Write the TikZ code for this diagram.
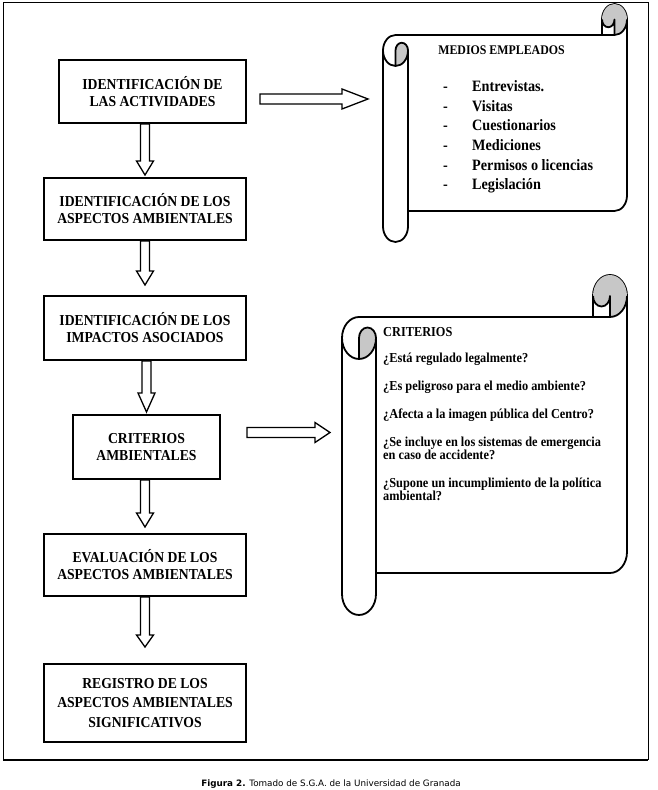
\documentclass[tikz,border=0pt]{standalone}
\usepackage{fontspec}
\setmainfont{Liberation Serif}[FakeStretch=0.9]
\newfontfamily\pief{DejaVu Sans}
\usetikzlibrary{positioning,calc}
\newcommand{\guion}{\makebox[29pt][l]{-}}
\tikzset{
    etapa/.style={rectangle, draw=black, line width=2.4pt, minimum width=201.6pt, minimum height=61.6pt, align=center, font=\fontsize{15.2}{17}\selectfont\bfseries, inner sep=2pt},
    texto/.style={inner sep=0pt, align=left, anchor=west},
    hoja/.style={inner sep=0pt, outer sep=0pt},
    rollo/.style={draw=black, line width=1.8pt, fill=white, line join=round},
    sombra/.style={fill=black!22},
    punta/.store in=\largopunta, punta=14,
    bajar/.style={draw=black, line width=1.3pt, to path={
        let \p1=(\tikztostart), \p2=(\tikztotarget) in
        (\x1-4.5,\y1) -- (\x1-4.5,\y2+\largopunta) -- (\x1-8.5,\y2+\largopunta) -- (\x1,\y2)
        -- (\x1+8.5,\y2+\largopunta) -- (\x1+4.5,\y2+\largopunta) -- (\x1+4.5,\y1) -- cycle}},
    derecha/.style={draw=black, line width=1.3pt, to path={
        let \p1=(\tikztostart), \p2=(\tikztotarget) in
        (\x1,\y1+5) -- (\x2-\largopunta,\y1+5) -- (\x2-\largopunta,\y1+10) -- (\x2,\y1)
        -- (\x2-\largopunta,\y1-10) -- (\x2-\largopunta,\y1-5) -- (\x1,\y1-5) -- cycle}}
    }
% pergamino: left, bottom, right, top, roll width, roll height
\newcommand{\pergamino}[6]{%
    \draw[rollo] (#1,{#4-1.5*#6}) arc[start angle=180, end angle=90, x radius={#5*0.5pt}, y radius={#6*0.5pt}]
        -- ({#3-#5},{#4-#6}) -- ({#3-#5},{#4-#6/2})
        arc[start angle=180, end angle=0, x radius={#5*0.5pt}, y radius={#6*0.5pt}]
        -- (#3,{#2+1.5*#6})
        arc[start angle=0, end angle=-90, x radius={#5*0.5pt}, y radius={#6*0.5pt}]
        -- ({#1+#5},{#2+#6}) -- ({#1+#5},{#2+#6/2})
        arc[start angle=0, end angle=-180, x radius={#5*0.5pt}, y radius={#6*0.5pt}]
        -- cycle;
    \fill[sombra] ({#3-#5/2},{#4-#6}) arc[start angle=-90, end angle=180, x radius={#5*0.5pt}, y radius={#6*0.5pt}]
        arc[start angle=180, end angle=360, x radius={#5*0.25pt}, y radius={#6*0.25pt}] -- cycle;
    \fill[sombra] ({#1+#5/2},{#4-2*#6}) arc[start angle=-90, end angle=0, x radius={#5*0.5pt}, y radius={#6*0.5pt}]
        arc[start angle=0, end angle=180, x radius={#5*0.25pt}, y radius={#6*0.25pt}] -- cycle;
    \draw[rollo, fill=none] ({#3-#5},{#4-#6}) -- ({#3-#5/2},{#4-#6})
        arc[start angle=-90, end angle=0, x radius={#5*0.5pt}, y radius={#6*0.5pt}];
    \draw[rollo, fill=none] ({#3-#5/2},{#4-#6}) -- ({#3-#5/2},{#4-#6/2})
        arc[start angle=0, end angle=-180, x radius={#5*0.25pt}, y radius={#6*0.25pt}];
    \draw[rollo, fill=none] ({#1+#5/2},{#4-2*#6}) -- ({#1+#5/2},{#4-1.5*#6})
        arc[start angle=180, end angle=0, x radius={#5*0.25pt}, y radius={#6*0.25pt}]
        arc[start angle=0, end angle=-180, x radius={#5*0.5pt}, y radius={#6*0.5pt}];
    \draw[rollo, fill=none] ({#1+#5},{#4-1.5*#6}) -- ({#1+#5},{#2+#6});
}
\begin{document}
\begin{tikzpicture}[x=1pt, y=1pt]
    \useasboundingbox (0,0) rectangle (657,790);
    \draw[line width=1pt] (3,30) rectangle (648,787);
    \draw[line width=2pt] (3,30) -- (648,30);

    \node[etapa, minimum width=186.6pt, minimum height=62.6pt] (act) at (152.5,698.5) {IDENTIFICACIÓN DE\\LAS ACTIVIDADES};
    \node[etapa, below=53pt of act, xshift=-7.5pt] (asp) {IDENTIFICACIÓN DE LOS\\ASPECTOS AMBIENTALES};
    \node[etapa, below=54pt of asp, minimum height=63.6pt] (imp) {IDENTIFICACIÓN DE LOS\\IMPACTOS ASOCIADOS};
    \node[etapa, below=53pt of imp, minimum width=146.6pt, minimum height=63.6pt, xshift=1.5pt] (crit) {CRITERIOS\\AMBIENTALES};
    \node[etapa, below=53pt of crit, xshift=-1.5pt] (eval) {EVALUACIÓN DE LOS\\ASPECTOS AMBIENTALES};
    \node[etapa, below=66pt of eval, minimum height=77.6pt, font=\fontsize{15.2}{19.5}\selectfont\bfseries] (reg) {REGISTRO DE LOS\\ASPECTOS AMBIENTALES\\SIGNIFICATIVOS};

    % pergaminos
    \node[hoja, minimum width=244pt, minimum height=176pt] (medios) at (505,667) {};
    \pergamino{383}{548}{627}{786}{25}{31}
    \node[hoja, minimum width=285pt, minimum height=256pt] (criterios) at (484.5,345) {};
    \pergamino{342}{175}{627}{515}{34}{42}

    \node[texto, anchor=center, font=\fontsize{13.2}{15}\selectfont\bfseries] (medtit) at (501.5,740) {MEDIOS EMPLEADOS};
    \node[texto, font=\fontsize{15.8}{19.6}\selectfont\bfseries] (medlista) at (443,653) {\guion Entrevistas.\\\guion Visitas\\\guion Cuestionarios\\\guion Mediciones\\\guion Permisos o licencias\\\guion Legislación};
    \node[texto, font=\fontsize{13.7}{16}\selectfont\bfseries] (crittit) at (383,458) {CRITERIOS};
    \node[texto, font=\fontsize{13.7}{12.8}\selectfont\bfseries] (pregs) at (383,363) {¿Está regulado legalmente?\\[15.2pt]
        ¿Es peligroso para el medio ambiente?\\[15.2pt]
        ¿Afecta a la imagen pública del Centro?\\[15.2pt]
        ¿Se incluye en los sistemas de emergencia\\en caso de accidente?\\[15.2pt]
        ¿Supone un incumplimiento de la política\\ambiental?};

    \draw[bajar] (act.south -| asp.north) to ([yshift=2pt]asp.north);
    \draw[bajar] (asp.south) to ([yshift=10pt]imp.north);
    \draw[bajar, punta=19] (imp.south -| crit.north) to ([yshift=2pt]crit.north);
    \draw[bajar] (crit.south -| eval.north) to ([yshift=6pt]eval.north);
    \draw[bajar, punta=12] (eval.south) to ([yshift=16pt]reg.north);
    \draw[derecha, punta=26] ([xshift=13pt, yshift=-7.5pt]act.east) to ([xshift=-15pt]medios.west);
    \draw[derecha, punta=15] ([xshift=26pt, yshift=14.5pt]crit.east) to ([xshift=-12pt]criterios.west);

    \node[font=\pief\fontsize{8.8}{10}\selectfont] (pie) at (331,6) {\textbf{Figura 2.} Tomado de S.G.A. de la Universidad de Granada};
\end{tikzpicture}
\end{document}
